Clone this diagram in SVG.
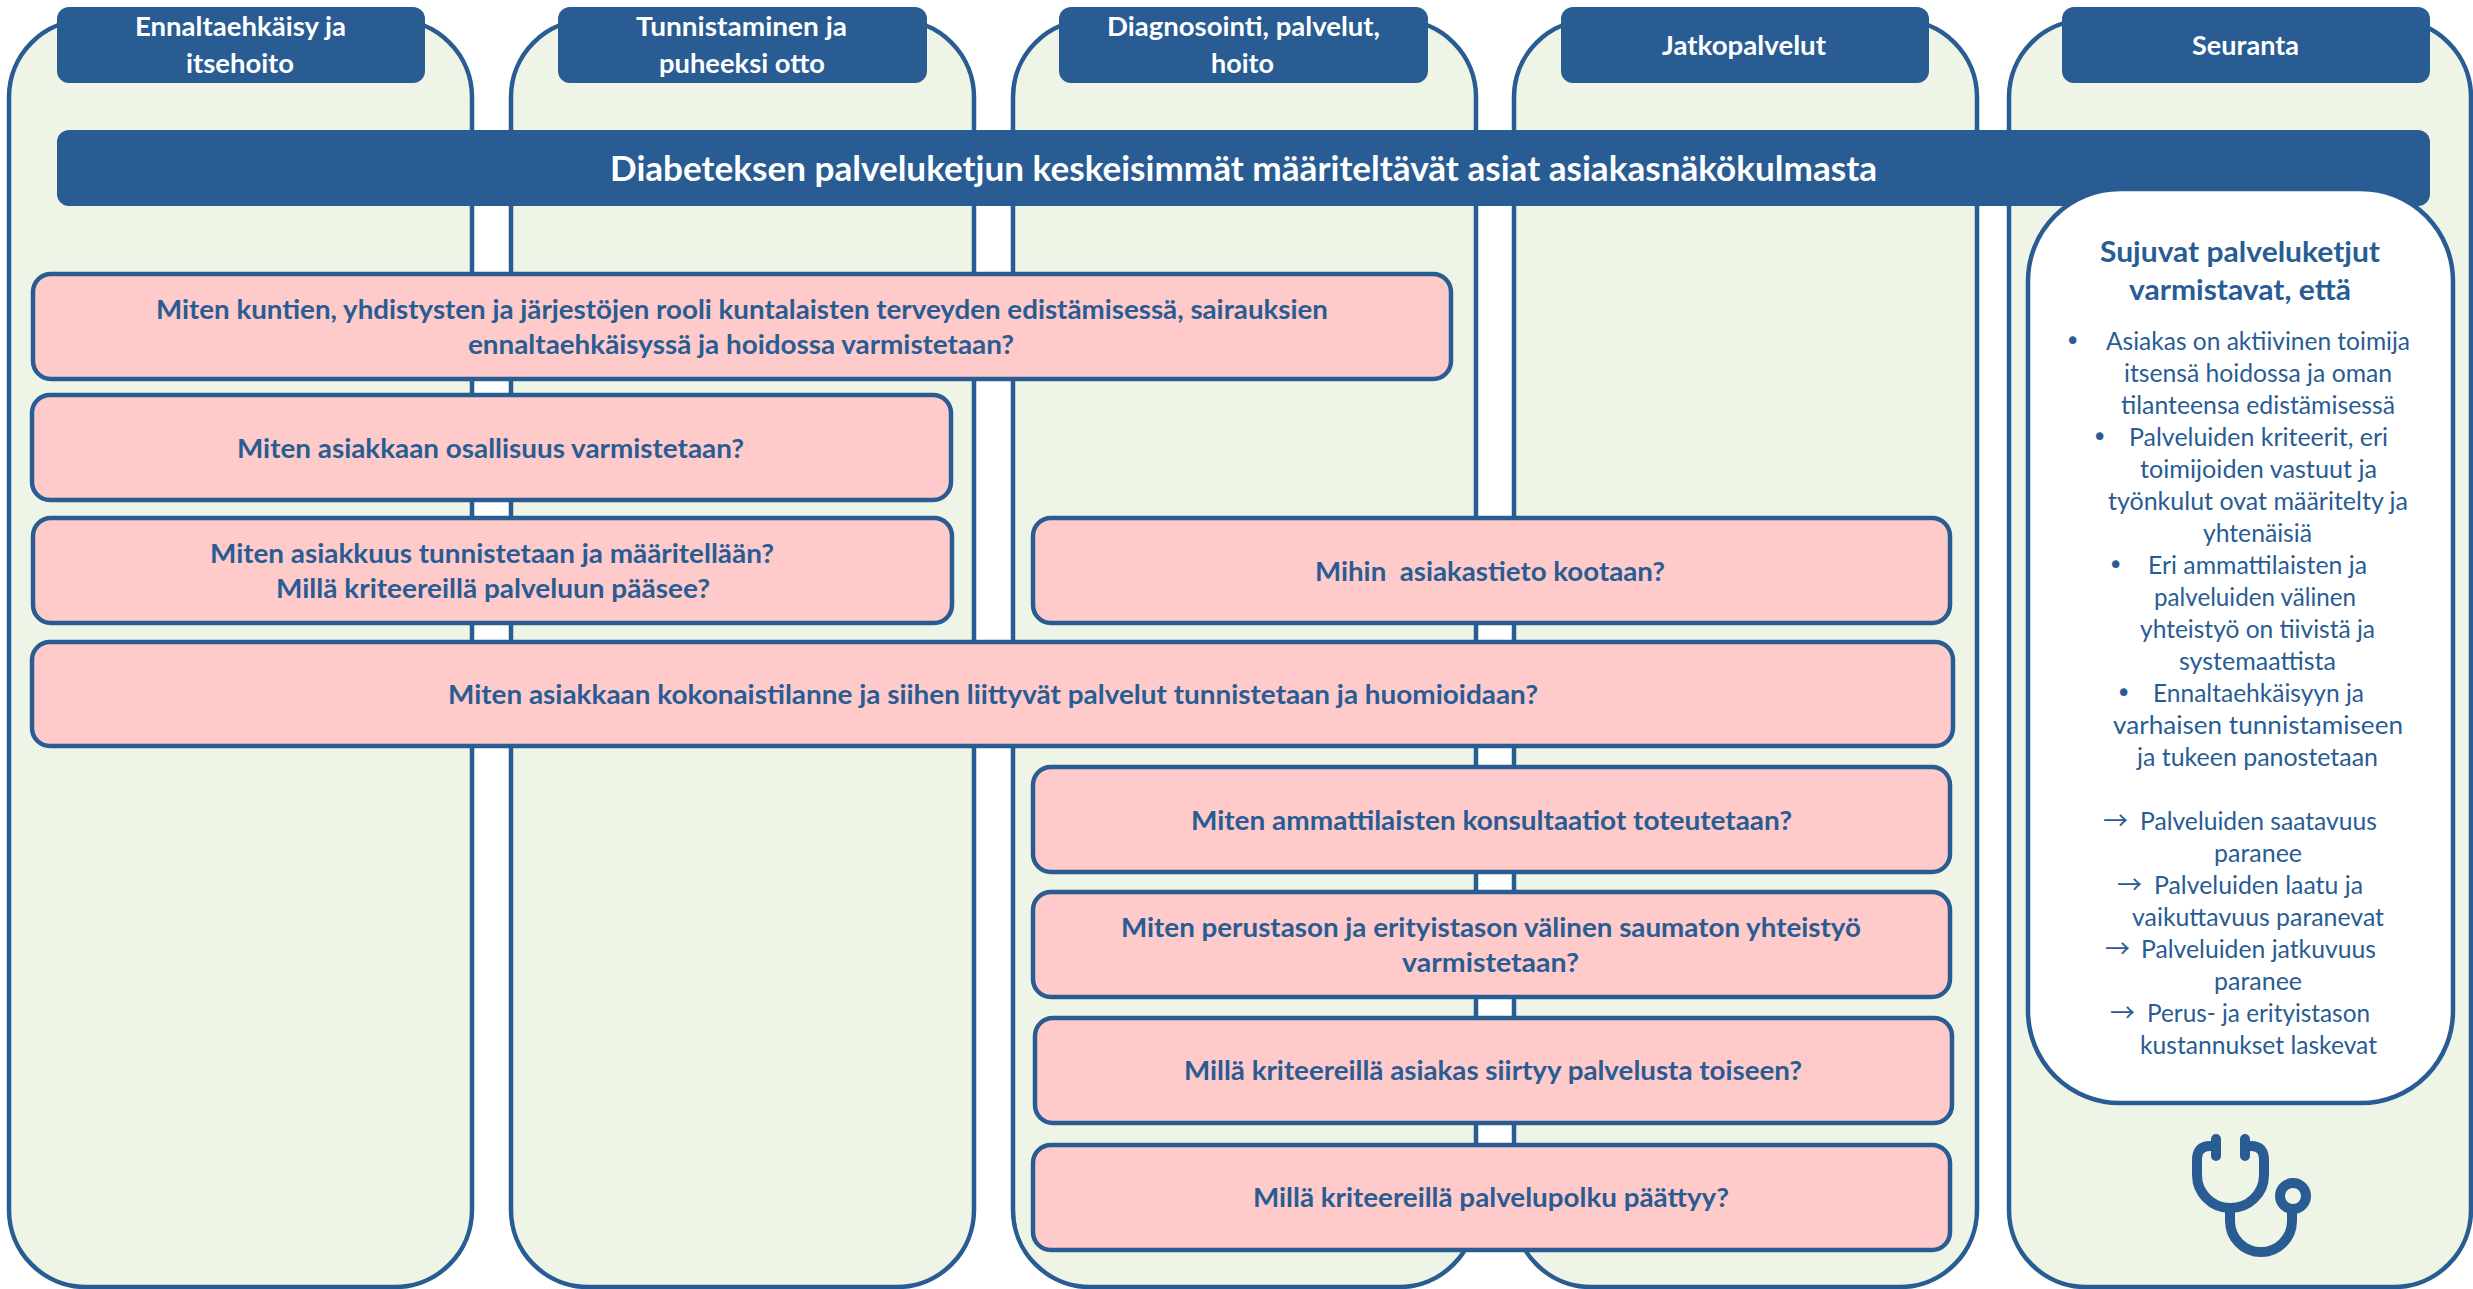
<svg xmlns="http://www.w3.org/2000/svg" width="2473" height="1289" viewBox="0 0 2473 1289">
<style>
text{font-family:Lato,"Open Sans",sans-serif;white-space:pre}
.col{fill:#EEF5E6;stroke:#285C93;stroke-width:4.500}
.hd{fill:#285C93}
.q{fill:#FFCACA;stroke:#285C93;stroke-width:4.5}
.wh{font-weight:700;font-size:26px;fill:#fff}
.qt{font-weight:700;font-size:26px;fill:#285C93}
.bt{font-size:24.5px;fill:#285C93}
.sym{font-family:"DejaVu Sans",sans-serif;font-size:26px;fill:#285C93}
.arr{font-family:"Noto Sans CJK SC",sans-serif;font-size:25px;fill:#285C93}
</style>
<rect width="2473" height="1289" fill="#fff"/>
<g id="col1"><rect class="col" x="9" y="20" width="463" height="1267" rx="77"/></g>
<g id="col2"><rect class="col" x="511" y="20" width="463" height="1267" rx="77"/></g>
<g id="col3"><rect class="col" x="1013" y="20" width="463" height="1267" rx="77"/></g>
<g id="col4"><rect class="col" x="1514" y="20" width="463" height="1267" rx="77"/></g>
<g id="col5"><rect class="col" x="2009" y="20" width="462" height="1267" rx="77"/></g>

<g id="header1"><rect class="hd" x="57" y="7" width="368" height="76" rx="12"/>
<text class="wh" x="135" y="36" textLength="211" lengthAdjust="spacingAndGlyphs">Ennaltaehkäisy ja</text>
<text class="wh" x="186" y="73" textLength="108" lengthAdjust="spacingAndGlyphs">itsehoito</text></g>
<g id="header2"><rect class="hd" x="558" y="7" width="369" height="76" rx="12"/>
<text class="wh" x="636" y="36" textLength="211" lengthAdjust="spacingAndGlyphs">Tunnistaminen ja</text>
<text class="wh" x="659" y="73" textLength="166" lengthAdjust="spacingAndGlyphs">puheeksi otto</text></g>
<g id="header3"><rect class="hd" x="1059" y="7" width="369" height="76" rx="12"/>
<text class="wh" x="1107" y="36" textLength="273" lengthAdjust="spacingAndGlyphs">Diagnosointi, palvelut,</text>
<text class="wh" x="1211" y="73" textLength="63" lengthAdjust="spacingAndGlyphs">hoito</text></g>
<g id="header4"><rect class="hd" x="1561" y="7" width="368" height="76" rx="12"/>
<text class="wh" x="1662" y="55" textLength="164" lengthAdjust="spacingAndGlyphs">Jatkopalvelut</text></g>
<g id="header5"><rect class="hd" x="2062" y="7" width="368" height="76" rx="12"/>
<text class="wh" x="2192" y="55" textLength="107" lengthAdjust="spacingAndGlyphs">Seuranta</text></g>

<g id="banner"><rect class="hd" x="57" y="130" width="2373" height="76" rx="12"/>
<text class="wh" style="font-size:34px" x="610" y="181" textLength="1267" lengthAdjust="spacingAndGlyphs">Diabeteksen palveluketjun keskeisimmät määriteltävät asiat asiakasnäkökulmasta</text></g>

<g id="q1"><rect class="q" x="33" y="274" width="1418" height="105" rx="18"/>
<text class="qt" x="156" y="319" textLength="1172" lengthAdjust="spacingAndGlyphs">Miten kuntien, yhdistysten ja järjestöjen rooli kuntalaisten terveyden edistämisessä, sairauksien</text>
<text class="qt" x="468" y="354" textLength="546" lengthAdjust="spacingAndGlyphs">ennaltaehkäisyssä ja hoidossa varmistetaan?</text></g>
<g id="q2"><rect class="q" x="32" y="395" width="919" height="105" rx="18"/>
<text class="qt" x="237" y="458" textLength="507" lengthAdjust="spacingAndGlyphs">Miten asiakkaan osallisuus varmistetaan?</text></g>
<g id="q3"><rect class="q" x="33" y="518" width="919" height="105" rx="18"/>
<text class="qt" x="210" y="563" textLength="564" lengthAdjust="spacingAndGlyphs">Miten asiakkuus tunnistetaan ja määritellään?</text>
<text class="qt" x="276" y="598" textLength="434" lengthAdjust="spacingAndGlyphs">Millä kriteereillä palveluun pääsee?</text></g>
<g id="q4"><rect class="q" x="1033" y="518" width="917" height="105" rx="18"/>
<text class="qt" x="1315" y="581" textLength="350" lengthAdjust="spacingAndGlyphs">Mihin  asiakastieto kootaan?</text></g>
<g id="q5"><rect class="q" x="32" y="642" width="1921" height="104" rx="18"/>
<text class="qt" x="448" y="704" textLength="1090" lengthAdjust="spacingAndGlyphs">Miten asiakkaan kokonaistilanne ja siihen liittyvät palvelut tunnistetaan ja huomioidaan?</text></g>
<g id="q6"><rect class="q" x="1033" y="767" width="917" height="105" rx="18"/>
<text class="qt" x="1191" y="830" textLength="601" lengthAdjust="spacingAndGlyphs">Miten ammattilaisten konsultaatiot toteutetaan?</text></g>
<g id="q7"><rect class="q" x="1033" y="892" width="917" height="105" rx="18"/>
<text class="qt" x="1121" y="937" textLength="740" lengthAdjust="spacingAndGlyphs">Miten perustason ja erityistason välinen saumaton yhteistyö</text>
<text class="qt" x="1402" y="972" textLength="177" lengthAdjust="spacingAndGlyphs">varmistetaan?</text></g>
<g id="q8"><rect class="q" x="1035" y="1018" width="917" height="105" rx="18"/>
<text class="qt" x="1184" y="1080" textLength="618" lengthAdjust="spacingAndGlyphs">Millä kriteereillä asiakas siirtyy palvelusta toiseen?</text></g>
<g id="q9"><rect class="q" x="1033" y="1145" width="917" height="105" rx="18"/>
<text class="qt" x="1253" y="1207" textLength="476" lengthAdjust="spacingAndGlyphs">Millä kriteereillä palvelupolku päättyy?</text></g>

<g id="summary"><rect x="2028" y="189" width="425" height="914" rx="92" fill="#fff" stroke="#285C93" stroke-width="4.5"/>
<text class="qt" style="font-size:29px" x="2100" y="262" textLength="280" lengthAdjust="spacingAndGlyphs">Sujuvat palveluketjut</text>
<text class="qt" style="font-size:29px" x="2129" y="300" textLength="222" lengthAdjust="spacingAndGlyphs">varmistavat, että</text>
<text class="sym" x="2065" y="350">•</text>
<text class="bt" x="2106" y="350" textLength="304" lengthAdjust="spacingAndGlyphs">Asiakas on aktiivinen toimija</text>
<text class="bt" x="2124" y="382" textLength="268" lengthAdjust="spacingAndGlyphs">itsensä hoidossa ja oman</text>
<text class="bt" x="2121" y="414" textLength="274" lengthAdjust="spacingAndGlyphs">tilanteensa edistämisessä</text>
<text class="sym" x="2092" y="446">•</text>
<text class="bt" x="2129" y="446" textLength="259" lengthAdjust="spacingAndGlyphs">Palveluiden kriteerit, eri</text>
<text class="bt" x="2140" y="478" textLength="237" lengthAdjust="spacingAndGlyphs">toimijoiden vastuut ja</text>
<text class="bt" x="2108" y="510" textLength="300" lengthAdjust="spacingAndGlyphs">työnkulut ovat määritelty ja</text>
<text class="bt" x="2203" y="542" textLength="109" lengthAdjust="spacingAndGlyphs">yhtenäisiä</text>
<text class="sym" x="2108" y="574">•</text>
<text class="bt" x="2148" y="574" textLength="219" lengthAdjust="spacingAndGlyphs">Eri ammattilaisten ja</text>
<text class="bt" x="2154" y="606" textLength="202" lengthAdjust="spacingAndGlyphs">palveluiden välinen</text>
<text class="bt" x="2140" y="638" textLength="235" lengthAdjust="spacingAndGlyphs">yhteistyö on tiivistä ja</text>
<text class="bt" x="2179" y="670" textLength="157" lengthAdjust="spacingAndGlyphs">systemaattista</text>
<text class="sym" x="2116" y="702">•</text>
<text class="bt" x="2153" y="702" textLength="211" lengthAdjust="spacingAndGlyphs">Ennaltaehkäisyyn ja</text>
<text class="bt" x="2113" y="734" textLength="290" lengthAdjust="spacingAndGlyphs">varhaisen tunnistamiseen</text>
<text class="bt" x="2137" y="766" textLength="241" lengthAdjust="spacingAndGlyphs">ja tukeen panostetaan</text>
<text class="arr" x="2103" y="830">→</text>
<text class="bt" x="2140" y="830" textLength="237" lengthAdjust="spacingAndGlyphs">Palveluiden saatavuus</text>
<text class="bt" x="2214" y="862" textLength="88" lengthAdjust="spacingAndGlyphs">paranee</text>
<text class="arr" x="2117" y="894">→</text>
<text class="bt" x="2154" y="894" textLength="209" lengthAdjust="spacingAndGlyphs">Palveluiden laatu ja</text>
<text class="bt" x="2132" y="926" textLength="252" lengthAdjust="spacingAndGlyphs">vaikuttavuus paranevat</text>
<text class="arr" x="2105" y="958">→</text>
<text class="bt" x="2141" y="958" textLength="235" lengthAdjust="spacingAndGlyphs">Palveluiden jatkuvuus</text>
<text class="bt" x="2214" y="990" textLength="88" lengthAdjust="spacingAndGlyphs">paranee</text>
<text class="arr" x="2110" y="1022">→</text>
<text class="bt" x="2147" y="1022" textLength="223" lengthAdjust="spacingAndGlyphs">Perus- ja erityistason</text>
<text class="bt" x="2140" y="1054" textLength="237" lengthAdjust="spacingAndGlyphs">kustannukset laskevat</text>
</g>

<g id="stethoscope" fill="none" stroke="#285C93" stroke-width="10" stroke-linecap="round">
<path d="M2216 1146H2210Q2197 1146 2197 1160V1175A33.500 33 0 0 0 2230 1208A33.500 33 0 0 0 2264 1175V1160Q2264 1146 2251 1146H2245"/>
<path d="M2216 1139V1156M2245 1139V1156"/>
<path d="M2230 1208V1221A31 31 0 0 0 2292 1221V1209"/>
<circle cx="2293" cy="1196" r="13"/>
</g>
</svg>
